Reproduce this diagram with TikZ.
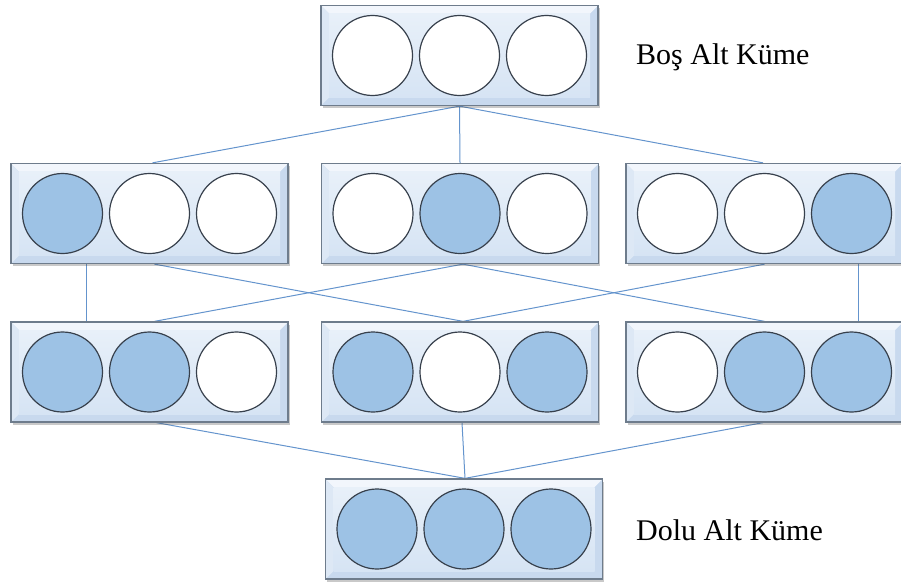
\documentclass[tikz,border=0pt]{standalone}
\usepackage{fontspec}
\setmainfont{Liberation Serif}
\usetikzlibrary{calc,shadows,backgrounds}
\definecolor{cblue}{RGB}{157,194,229}
\definecolor{cborder}{RGB}{55,64,76}
\definecolor{bborder}{RGB}{110,124,140}
\definecolor{bevel}{RGB}{200,217,238}
\definecolor{bevtop}{RGB}{242,246,252}
\definecolor{facetop}{RGB}{232,240,249}
\definecolor{facebot}{RGB}{214,228,244}
\definecolor{lineblue}{RGB}{100,148,205}
\tikzset{
  setbox/.style={rectangle, minimum width=277pt, minimum height=100pt, inner sep=0pt,
    draw=bborder, line width=1.3pt,
    drop shadow={shadow xshift=1.5pt, shadow yshift=-2.5pt, opacity=0.3, fill=black!70},
    path picture={
      \fill[bevel] (path picture bounding box.south west) rectangle (path picture bounding box.north east);
      \fill[bevtop] (path picture bounding box.north west) -- (path picture bounding box.north east)
        -- ([shift={(-8pt,-8pt)}]path picture bounding box.north east)
        -- ([shift={(8pt,-8pt)}]path picture bounding box.north west) -- cycle;
      \fill[bevtop!50!bevel] (path picture bounding box.north west) -- ([shift={(8pt,-8pt)}]path picture bounding box.north west)
        -- ([shift={(8pt,8pt)}]path picture bounding box.south west) -- (path picture bounding box.south west) -- cycle;
      \shade[top color=facetop, bottom color=facebot]
        ([shift={(8pt,8pt)}]path picture bounding box.south west) rectangle ([shift={(-8pt,-8pt)}]path picture bounding box.north east);
    }},
  cw/.style={circle, minimum size=80pt, inner sep=0pt, draw=cborder, line width=1.2pt, fill=white},
  cb/.style={cw, fill=cblue},
  conn/.style={draw=lineblue, line width=1pt},
  lbl/.style={anchor=west, inner sep=0pt, font=\fontsize{30}{36}\selectfont}
}
\begin{document}
\begin{tikzpicture}[x=1pt,y=-1pt]
\useasboundingbox (0,0) rectangle (901,586);
% top
\node[setbox] (t) at (459.5,55.5) {};
\node[cw] (t1) at ($(t)+(-87,0)$) {};
\node[cw] (t2) at (t) {};
\node[cw] (t3) at ($(t)+(87,0)$) {};
% row 2
\node[setbox] (b1) at (149.5,213.5) {};
\node[cb] (c11) at ($(b1)+(-87,0)$) {};
\node[cw] (c12) at (b1) {};
\node[cw] (c13) at ($(b1)+(87,0)$) {};
\node[setbox] (b2) at (460,213.5) {};
\node[cw] (c21) at ($(b2)+(-87,0)$) {};
\node[cb] (c22) at (b2) {};
\node[cw] (c23) at ($(b2)+(87,0)$) {};
\node[setbox] (b3) at (764.5,213.5) {};
\node[cw] (c31) at ($(b3)+(-87,0)$) {};
\node[cw] (c32) at (b3) {};
\node[cb] (c33) at ($(b3)+(87,0)$) {};
% row 3
\node[setbox] (r1) at (149.5,372) {};
\node[cb] (d11) at ($(r1)+(-87,0)$) {};
\node[cb] (d12) at (r1) {};
\node[cw] (d13) at ($(r1)+(87,0)$) {};
\node[setbox] (r2) at (460,372) {};
\node[cb] (d21) at ($(r2)+(-87,0)$) {};
\node[cw] (d22) at (r2) {};
\node[cb] (d23) at ($(r2)+(87,0)$) {};
\node[setbox] (r3) at (764.5,372) {};
\node[cw] (d31) at ($(r3)+(-87,0)$) {};
\node[cb] (d32) at (r3) {};
\node[cb] (d33) at ($(r3)+(87,0)$) {};
% bottom
\node[setbox] (d) at (464,529) {};
\node[cb] (e1) at ($(d)+(-87,0)$) {};
\node[cb] (e2) at (d) {};
\node[cb] (e3) at ($(d)+(87,0)$) {};
% labels
\node[lbl] (lt) at (636,57) {Boş Alt Küme};
\node[lbl] (lb) at (636,530) {Dolu Alt Küme};
% connectors
\begin{scope}[on background layer]
\draw[conn] (t.south) -- ([xshift=3pt]b1.north);
\draw[conn] (t.south) -- (b2.north);
\draw[conn] (t.south) -- ([xshift=-1.5pt]b3.north);
\draw[conn] ([xshift=-63.5pt]b1.south) -- ([xshift=-63.5pt]r1.north);
\draw[conn] ([xshift=5pt]b1.south) -- ([xshift=3pt]r2.north);
\draw[conn] ([xshift=3pt]b2.south) -- ([xshift=5pt]r1.north);
\draw[conn] ([xshift=3pt]b2.south) -- (r3.north);
\draw[conn] (b3.south) -- ([xshift=3pt]r2.north);
\draw[conn] ([xshift=93.5pt]b3.south) -- ([xshift=93.5pt]r3.north);
\draw[conn] ([xshift=7pt]r1.south) -- ([xshift=1pt]d.north);
\draw[conn] ([xshift=2pt]r2.south) -- ([xshift=1pt]d.north);
\draw[conn] ([xshift=-1.5pt]r3.south) -- ([xshift=1pt]d.north);
\end{scope}
\end{tikzpicture}
\end{document}
